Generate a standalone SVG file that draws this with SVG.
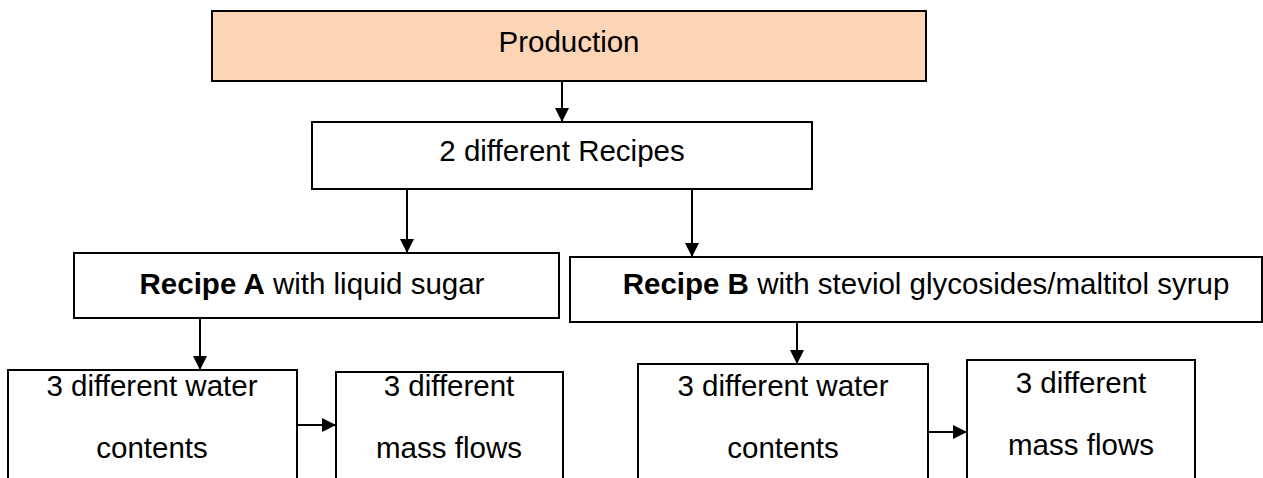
<svg xmlns="http://www.w3.org/2000/svg" width="1263" height="478" viewBox="0 0 1263 478">
<defs>
<marker id="ah" viewBox="0 0 10 10" refX="10" refY="5" markerWidth="14" markerHeight="14" markerUnits="userSpaceOnUse" orient="auto">
<path d="M0,0 L10,5 L0,10 Z" fill="#000"/>
</marker>
</defs>
<style>
.box{fill:#fff;stroke:#000;stroke-width:2}
.prod{fill:#FBD5B5;stroke:#000;stroke-width:2}
.t{font-family:"Liberation Sans",Arial,sans-serif;font-size:29.5px;fill:#000;text-anchor:middle}
.b{font-weight:bold}
.c{stroke:#000;stroke-width:2;fill:none;marker-end:url(#ah)}
</style>
<rect width="1263" height="478" fill="#fff"/>
<g id="connectors">
<line class="c" x1="562" y1="81" x2="562" y2="122"/>
<line class="c" x1="407" y1="189" x2="407" y2="253"/>
<line class="c" x1="692" y1="189" x2="692" y2="257"/>
<line class="c" x1="200" y1="318" x2="200" y2="370"/>
<line class="c" x1="797" y1="322" x2="797" y2="364"/>
<line class="c" x1="297" y1="425" x2="336" y2="425"/>
<line class="c" x1="928" y1="432" x2="967" y2="432"/>
</g>
<g id="production">
<rect class="prod" x="212" y="11" width="714" height="70"/>
<text class="t" x="569" y="52">Production</text>
</g>
<g id="recipes">
<rect class="box" x="312" y="122" width="500" height="67"/>
<text class="t" x="562" y="161">2 different Recipes</text>
</g>
<g id="recipeA">
<rect class="box" x="74" y="253" width="485" height="65"/>
<text class="t" x="312" y="294"><tspan class="b">Recipe A</tspan> with liquid sugar</text>
</g>
<g id="recipeB">
<rect class="box" x="570" y="257" width="692" height="65"/>
<text class="t" x="926" y="294"><tspan class="b">Recipe B</tspan> with steviol glycosides/maltitol syrup</text>
</g>
<g id="waterA">
<rect class="box" x="8" y="370" width="289" height="120"/>
<text class="t" x="152" y="396">3 different water</text>
<text class="t" x="152" y="458">contents</text>
</g>
<g id="massA">
<rect class="box" x="336" y="372" width="227" height="120"/>
<text class="t" x="449" y="396">3 different</text>
<text class="t" x="449" y="458">mass flows</text>
</g>
<g id="waterB">
<rect class="box" x="638" y="364" width="290" height="120"/>
<text class="t" x="783" y="396">3 different water</text>
<text class="t" x="783" y="458">contents</text>
</g>
<g id="massB">
<rect class="box" x="967" y="360" width="228" height="125"/>
<text class="t" x="1081" y="393">3 different</text>
<text class="t" x="1081" y="455">mass flows</text>
</g>
</svg>
